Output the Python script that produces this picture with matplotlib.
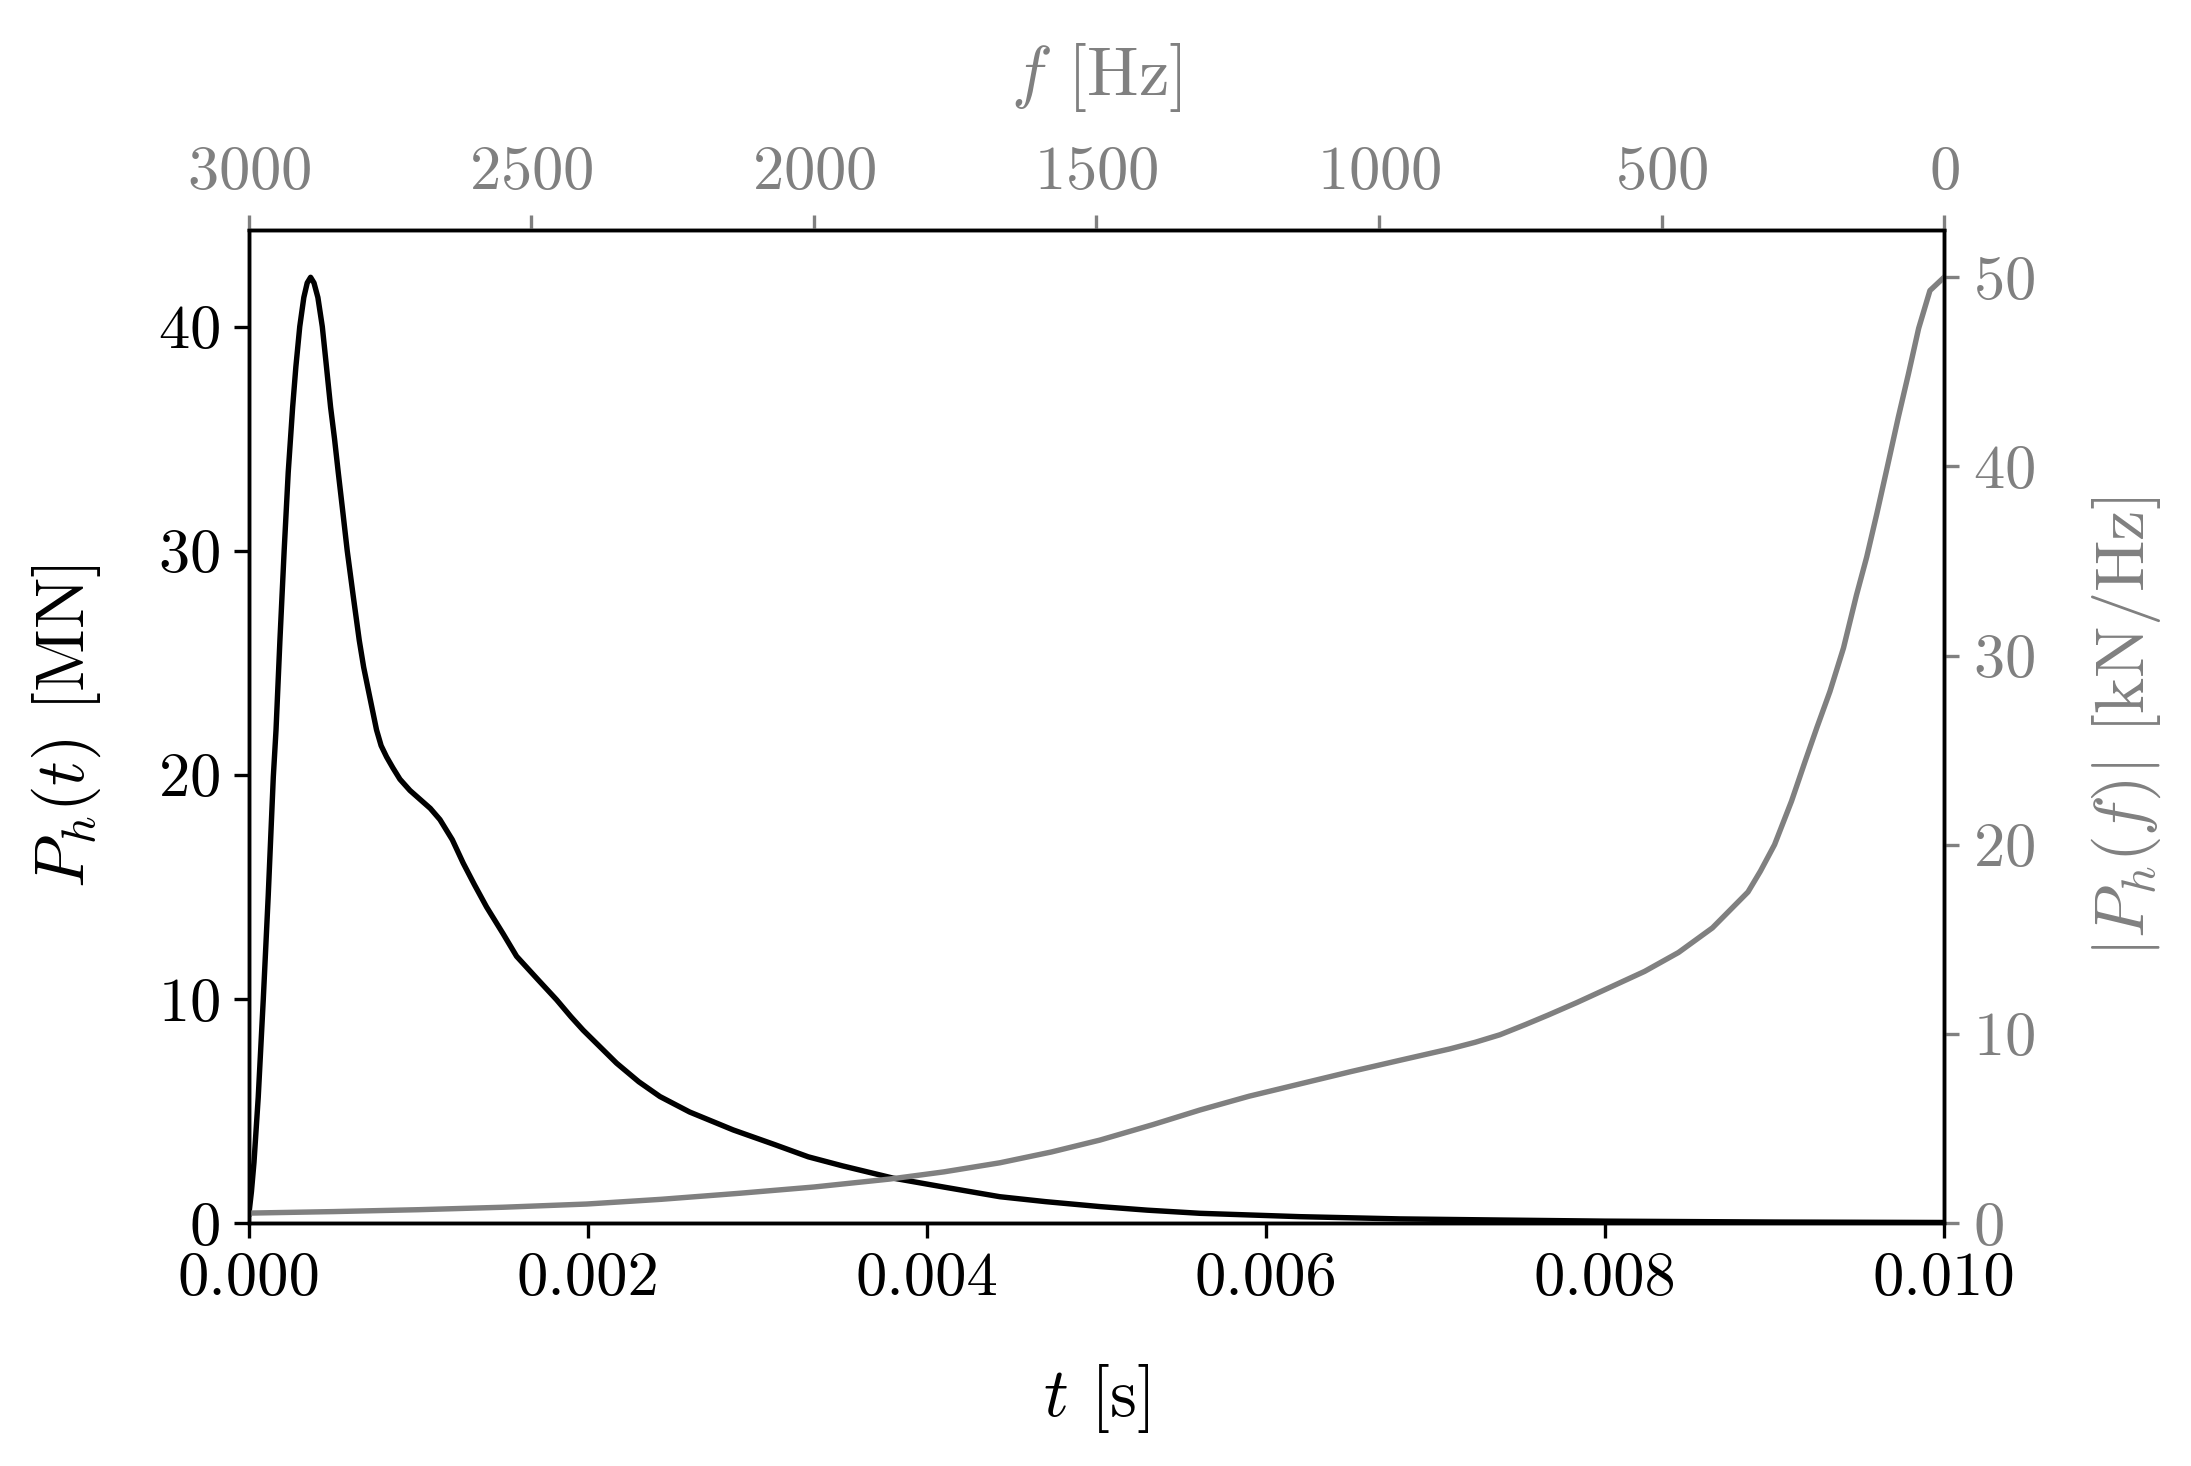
import numpy as np
import matplotlib
matplotlib.use("Agg")
import matplotlib.pyplot as plt
from matplotlib.ticker import FormatStrFormatter

plt.rcParams['font.family'] = 'serif'
plt.rcParams['font.serif'] = ['cmr10']
plt.rcParams['mathtext.fontset'] = 'cm'
plt.rcParams['axes.formatter.use_mathtext'] = True
plt.rcParams['axes.unicode_minus'] = False

# time history of the load, t [s] vs P_h(t) [MN]
t_s = [0.0, 0.000015, 0.00003, 0.000055, 0.000085, 0.000114, 0.000144, 0.00016,
       0.000183, 0.000208, 0.000232, 0.000258, 0.000277, 0.0003, 0.000324,
       0.000344, 0.000364, 0.000384, 0.000407, 0.000433, 0.000455, 0.000482,
       0.000505, 0.000527, 0.000553, 0.00058, 0.000615, 0.000651, 0.000677,
       0.000704, 0.000753, 0.00078, 0.000812, 0.00085, 0.000891, 0.00095,
       0.00101, 0.00107, 0.001127, 0.0012, 0.001264, 0.00133, 0.001402, 0.0015,
       0.001579, 0.0017, 0.001815, 0.0019, 0.001972, 0.002169, 0.0023,
       0.002425, 0.0026, 0.002857, 0.0031, 0.0033, 0.0035, 0.0038, 0.0041,
       0.00443, 0.0047, 0.00502, 0.0053, 0.00561, 0.0062, 0.00679, 0.00738,
       0.008, 0.009, 0.01]
p_MN = [0.4, 1.4, 2.7, 5.6, 10.0, 14.6, 19.9, 22.0,
        26.0, 30.0, 33.5, 36.4, 38.2, 40.0, 41.3,
        41.95, 42.2, 41.95, 41.3, 40.0, 38.4, 36.4,
        35.0, 33.5, 31.8, 30.0, 28.0, 26.0, 24.8,
        23.8, 22.0, 21.3, 20.8, 20.3, 19.8, 19.3,
        18.9, 18.5, 18.0, 17.1, 16.06, 15.1, 14.1, 12.9,
        11.9, 10.9, 9.96, 9.2, 8.6, 7.13, 6.3,
        5.64, 4.95, 4.15, 3.5, 2.95, 2.55, 2.0, 1.6,
        1.17, 0.95, 0.73, 0.57, 0.43, 0.28, 0.18, 0.13,
        0.08, 0.04, 0.02]

# amplitude spectrum, f [Hz] vs |P_h(f)| [kN/Hz]
f_hz = [0, 25, 45, 63, 81, 101, 119, 137, 155, 178, 202, 225, 246, 270, 300,
        325, 347, 410, 470, 530, 599, 650, 700, 740, 786, 830, 875, 963, 1050,
        1140, 1230, 1317, 1400, 1494, 1580, 1671, 1770, 1866, 2000, 2131, 2270,
        2402, 2550, 2700, 2850, 3000]
spec_kN = [50.0, 49.3, 47.3, 44.9, 42.6, 39.9, 37.5, 35.2, 33.2, 30.4, 28.1,
           26.2, 24.4, 22.3, 20.0, 18.6, 17.5, 15.6, 14.3, 13.3, 12.35, 11.65,
           11.0, 10.5, 9.95, 9.55, 9.2, 8.6, 8.0, 7.35, 6.7, 5.97, 5.2, 4.38,
           3.75, 3.18, 2.7, 2.32, 1.9, 1.57, 1.25, 1.0, 0.83, 0.7, 0.6, 0.52]

t_ticks = [0.0, 0.002, 0.004, 0.006, 0.008, 0.010]
f_ticks = [3000, 2500, 2000, 1500, 1000, 500, 0]

grey = 'grey'

fig = plt.figure(figsize=(2191 / 300, 1466 / 300), dpi=300)
ax = fig.add_axes([0.1136, 0.1658, 0.7737, 0.6773])

ax.plot(t_s, p_MN, color='black', lw=1.3)
ax.set_xlim(0, 0.01)
ax.set_ylim(0, max(p_MN) * 1.05)
ax.set_xticks(t_ticks)
ax.xaxis.set_major_formatter(FormatStrFormatter('%.3f'))
ax.set_yticks([0, 10, 20, 30, 40])
ax.tick_params(labelsize=15)
ax.set_xlabel(r'$t$ [s]', fontsize=16.5, labelpad=13)
ax.set_ylabel(r'$P_h(t)$ [MN]', fontsize=16.5, labelpad=13)

axr = ax.twinx()
axr.set_ylim(0, max(spec_kN) * 1.05)
axr.set_yticks([0, 10, 20, 30, 40, 50])
axr.tick_params(axis='y', labelsize=15, colors=grey)
axr.set_ylabel(r'$|P_h(f)|$ [kN/Hz]', fontsize=16.5, color=grey, labelpad=13)

axf = axr.twiny()
axf.plot(f_hz, spec_kN, color=grey, lw=1.3)
axf.set_xlim(3000, 0)
axf.set_xticks(f_ticks)
axf.tick_params(axis='x', labelsize=15, colors=grey)
axf.set_xlabel(r'$f$ [Hz]', fontsize=16.5, color=grey, labelpad=12)

for a in (ax, axr, axf):
    for sp in a.spines.values():
        sp.set_color('black')

fig.savefig('out.png', dpi=300)
